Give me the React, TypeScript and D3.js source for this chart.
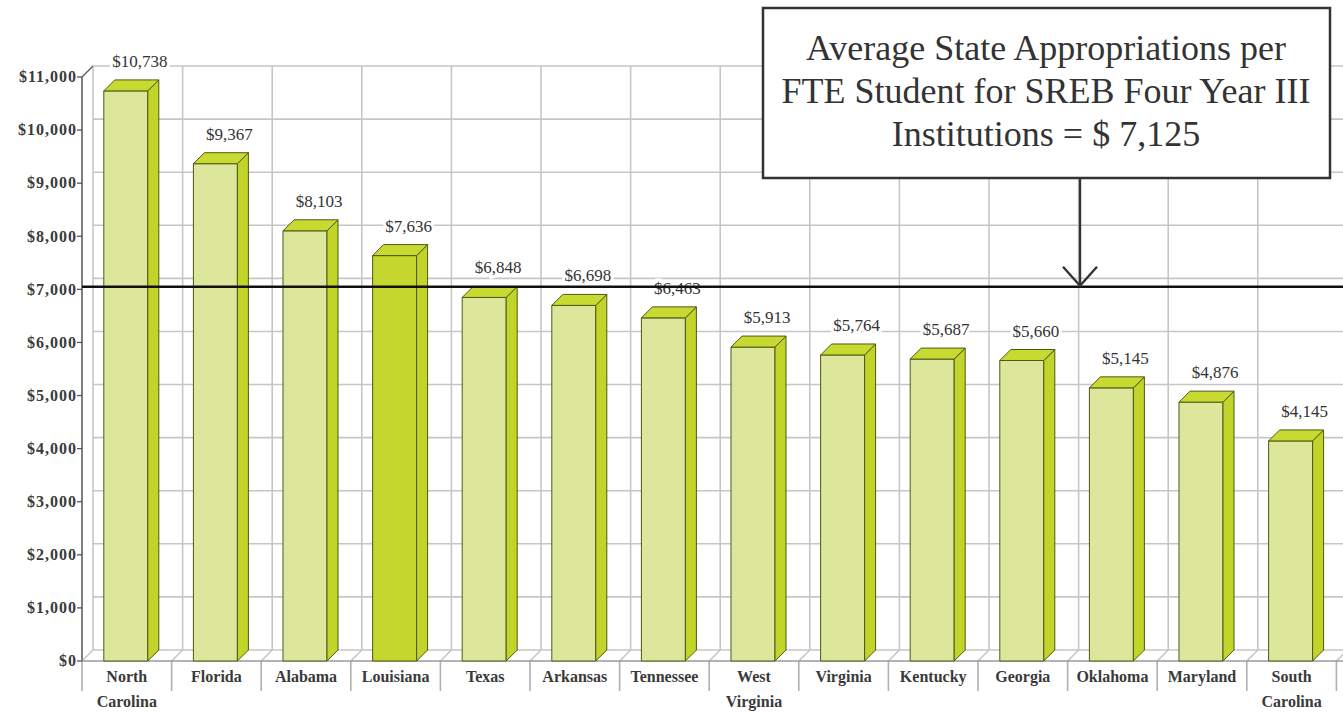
import * as d3 from "d3";

const states = [
  "North Carolina", "Florida", "Alabama", "Louisiana", "Texas", "Arkansas", "Tennessee",
  "West Virginia", "Virginia", "Kentucky", "Georgia", "Oklahoma", "Maryland", "South Carolina",
];
const values = [10738, 9367, 8103, 7636, 6848, 6698, 6463, 5913, 5764, 5687, 5660, 5145, 4876, 4145];
const highlight = "Louisiana";
const yTicks = [0, 1000, 2000, 3000, 4000, 5000, 6000, 7000, 8000, 9000, 10000, 11000];
const refValue = 7050;
const noteLines = [
  "Average State Appropriations per",
  "FTE Student for SREB Four Year III",
  "Institutions = $ 7,125",
];

const W = 1343;
const H = 712;
const left = 82;
const right = 1336.4;
const DX = 11;
const DY = -11;
const grid = "#c6c6c6";
const serif = "'Liberation Serif', 'DejaVu Serif', serif";

const fmt = (v: number) => "$" + d3.format(",")(v);

export default function App() {
  const x = d3.scaleBand<string>().domain(states).range([left, right]);
  const y = d3.scaleLinear().domain([0, 11000]).range([661, 77]);
  const bw = x.bandwidth();
  const barW = 44;
  const y0 = y(0);
  const yTop = y(11000);
  const bounds = states.map((s) => x(s)!).concat([right]);
  const data = states.map((s, i) => ({ state: s, value: values[i] }));
  const refY = y(refValue);

  return (
    <svg width={W} height={H} style={{ position: "absolute", left: 0, top: 0, background: "#fff" }}>
      {/* back wall grid */}
      <g stroke={grid} strokeWidth={1.6}>
        {yTicks.map((t) => (
          <line key={t} x1={left + DX} x2={W + DX} y1={y(t) + DY} y2={y(t) + DY} />
        ))}
        {bounds.map((b, i) => (
          <line key={i} x1={b + DX} x2={b + DX} y1={yTop + DY} y2={y0 + DY} />
        ))}
        {bounds.map((b, i) => (
          <line key={"f" + i} x1={b} x2={b + DX} y1={y0} y2={y0 + DY} />
        ))}
        {bounds.map((b, i) => (
          <line key={"t" + i} x1={b} x2={b} y1={y0} y2={y0 + 30} stroke="#b0b0b0" />
        ))}
      </g>
      {/* left wall edge + axes */}
      <line x1={left} x2={left + DX} y1={yTop} y2={yTop + DY} stroke="#555" strokeWidth={1.3} />
      <line x1={left} x2={left} y1={yTop} y2={y0} stroke="#555" strokeWidth={1.5} />
      <line x1={left} x2={W} y1={y0} y2={y0} stroke="#9a9a9a" strokeWidth={1.6} />
      <g fontFamily={serif} fontWeight="bold" fontSize={16} letterSpacing={1} fill="#3a3a3a">
        {yTicks.map((t) => (
          <g key={t}>
            <line x1={left - 5} x2={left} y1={y(t)} y2={y(t)} stroke="#555" strokeWidth={1.3} />
            <text x={left - 5} y={y(t)} dy="0.33em" textAnchor="end">
              {fmt(t)}
            </text>
          </g>
        ))}
      </g>

      {/* bars */}
      <g stroke="#4d5a12" strokeWidth={1} strokeLinejoin="round">
        {data.map((d) => {
          const x0 = x(d.state)! + bw / 2 - 23;
          const yv = y(d.value);
          const front = d.state === highlight ? "#c5d62e" : "#dde79c";
          return (
            <g key={d.state}>
              <rect x={x0} y={yv} width={barW} height={y0 - yv} fill={front} />
              <polygon
                points={`${x0 + barW},${yv} ${x0 + barW + DX},${yv + DY} ${x0 + barW + DX},${y0 + DY} ${x0 + barW},${y0}`}
                fill="#c2d32a"
              />
              <polygon
                points={`${x0},${yv} ${x0 + DX},${yv + DY} ${x0 + barW + DX},${yv + DY} ${x0 + barW},${yv}`}
                fill="#c8da32"
              />
            </g>
          );
        })}
      </g>

      {/* value labels */}
      <g fontFamily={serif} fontSize={17} fill="#333" textAnchor="middle">
        {data.map((d) => (
          <text
            key={d.state}
            x={x(d.state)! + bw / 2 + 13}
            y={y(d.value) - 24}
            stroke="#fff"
            strokeWidth={6}
            paintOrder="stroke"
          >
            {fmt(d.value)}
          </text>
        ))}
      </g>

      {/* category labels */}
      <g fontFamily={serif} fontWeight="bold" fontSize={16} fill="#3a3a3a" textAnchor="middle">
        {states.map((s) => (
          <text key={s} x={x(s)! + bw / 2} y={y0 + 21}>
            {s.split(" ").map((w, i) => (
              <tspan key={i} x={x(s)! + bw / 2} dy={i === 0 ? 0 : 25}>
                {w}
              </tspan>
            ))}
          </text>
        ))}
      </g>

      {/* reference line */}
      <line x1={left} x2={W} y1={refY} y2={refY} stroke="#111" strokeWidth={2.6} />

      {/* annotation */}
      <line x1={1080} x2={1080} y1={178} y2={refY} stroke="#333" strokeWidth={2.4} />
      <polyline
        points={`1063,${refY - 20} 1080,${refY - 1} 1097,${refY - 20}`}
        fill="none"
        stroke="#333"
        strokeWidth={2.4}
      />
      <rect x={763} y={8} width={567} height={170} fill="#fff" stroke="#333" strokeWidth={2.5} />
      <g fontFamily={serif} fontSize={36} fill="#333" textAnchor="middle">
        {noteLines.map((l, i) => (
          <text key={i} x={1046} y={60 + i * 43}>
            {l}
          </text>
        ))}
      </g>
    </svg>
  );
}
